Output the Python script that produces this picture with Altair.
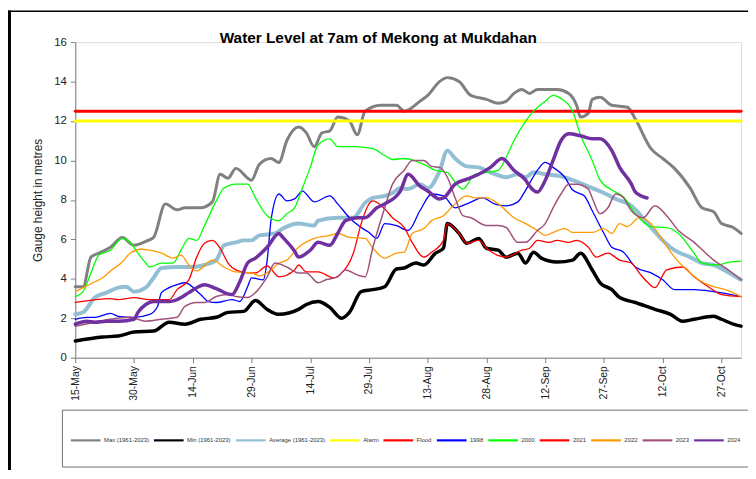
import altair as alt
import pandas as pd

title_text = "Water Level at 7am of Mekong at Mukdahan"
y_title = "Gauge height in metres"
tick_days = [0, 15, 30, 45, 60, 75, 90, 105, 120, 135, 150, 165]
tick_labels = ["15-May", "30-May", "14-Jun", "29-Jun", "14-Jul", "29-Jul",
               "13-Aug", "28-Aug", "12-Sep", "27-Sep", "12-Oct", "27-Oct"]
y_ticks = [0, 2, 4, 6, 8, 10, 12, 14, 16]

series_names = ["Max (1961-2023)", "Min (1961-2023)", "Average (1961-2023)", "Alarm", "Flood",
                "1998", "2000", "2021", "2022", "2023", "2024"]
series_colors = ["#808080", "#000000", "#92BFD4", "#FFFF00", "#FF0000",
                 "#0000FF", "#00FF00", "#FF0000", "#FF9900", "#A0527A", "#7030A0"]
series_widths = [3, 3.5, 4, 3, 3, 1.3, 1.3, 1.3, 1.3, 1.5, 3.5]

max_days = [0, 2, 4, 6, 9, 12, 15, 18, 20, 23, 26, 28, 32, 35, 37, 39, 41, 45, 47, 50, 52, 54, 57, 59, 61, 63, 65, 67, 70, 72, 74, 78, 82, 84, 88, 90, 93, 95, 98, 101, 105, 108, 110, 112, 114, 116, 118, 123, 126, 128, 129, 131, 132, 134, 137, 141, 143, 147, 150, 153, 157, 160, 163, 165, 168, 170]
max_vals = [3.6, 3.6, 5.1, 5.3, 5.6, 6.1, 5.7, 5.9, 6.1, 7.8, 7.5, 7.6, 7.6, 7.9, 9.3, 9.1, 9.6, 9.0, 9.8, 10.1, 9.9, 11.0, 11.7, 11.4, 10.7, 11.4, 11.5, 12.2, 12.0, 11.3, 12.5, 12.8, 12.8, 12.5, 13.0, 13.3, 14.0, 14.2, 14.0, 13.3, 13.1, 12.9, 13.0, 13.4, 13.6, 13.4, 13.6, 13.6, 13.4, 12.8, 12.2, 12.4, 13.1, 13.2, 12.8, 12.7, 12.1, 10.6, 10.1, 9.6, 8.6, 7.6, 7.4, 6.8, 6.6, 6.3]

min_days = [0, 7, 11, 15, 20, 24, 28, 32, 36, 39, 43, 46, 49, 52, 57, 59, 62, 65, 68, 70, 73, 76, 79, 82, 84, 87, 89, 92, 94, 95, 98, 100, 103, 105, 108, 110, 113, 115, 117, 119, 123, 127, 129, 132, 134, 137, 139, 143, 148, 152, 155, 158, 163, 165, 168, 170]
min_vals = [0.85, 1.05, 1.1, 1.3, 1.35, 1.8, 1.7, 1.95, 2.05, 2.3, 2.35, 2.9, 2.45, 2.2, 2.45, 2.7, 2.85, 2.55, 2.0, 2.3, 3.35, 3.45, 3.6, 4.5, 4.55, 4.8, 4.7, 5.3, 5.55, 6.8, 6.3, 5.8, 6.05, 5.55, 5.45, 5.1, 5.3, 4.8, 5.35, 5.05, 4.85, 4.95, 5.3, 4.45, 3.8, 3.45, 3.05, 2.8, 2.45, 2.2, 1.85, 1.95, 2.1, 1.95, 1.7, 1.6]

avg_days = [0, 2, 5, 8, 11, 13, 15, 18, 20, 22, 26, 30, 33, 36, 38, 41, 43, 45, 47, 51, 53, 57, 61, 62, 67, 71, 74, 76, 79, 81, 83, 85, 88, 90, 93, 95, 97, 100, 103, 106, 110, 113, 115, 117, 120, 124, 127, 132, 135, 138, 142, 144, 147, 150, 153, 157, 160, 163, 167, 170]
avg_vals = [2.2, 2.3, 3.05, 3.3, 3.55, 3.6, 3.35, 3.55, 4.05, 4.55, 4.6, 4.6, 4.7, 4.95, 5.7, 5.85, 5.95, 5.95, 6.2, 6.3, 6.55, 6.8, 6.7, 6.95, 7.1, 7.1, 7.85, 8.1, 8.2, 8.35, 8.6, 8.55, 8.8, 8.6, 9.45, 10.5, 10.1, 9.7, 9.65, 9.4, 9.15, 9.3, 9.15, 9.4, 9.3, 9.2, 9.0, 8.6, 8.35, 8.05, 7.7, 7.3, 6.6, 5.95, 5.45, 5.1, 4.8, 4.7, 4.3, 3.95]

alarm_days = [0, 170]
alarm_vals = [12.0, 12.0]
flood_days = [0, 170]
flood_vals = [12.5, 12.5]

y1998_days = [0, 3, 5, 9, 11, 15, 19, 21, 22, 24, 26, 28, 32, 34, 36, 40, 42, 44, 45, 48, 49, 50, 52, 54, 56, 58, 61, 65, 67, 70, 73, 75, 77, 79, 82, 85, 88, 91, 94, 97, 100, 104, 107, 110, 113, 115, 118, 120, 122, 125, 127, 130, 132, 135, 137, 140, 143, 147, 150, 153, 158, 163, 170]
y1998_vals = [1.95, 2.05, 2.05, 2.25, 2.1, 2.05, 2.2, 2.6, 3.3, 3.55, 3.7, 3.8, 3.2, 2.85, 2.8, 2.95, 2.85, 3.6, 4.05, 3.95, 4.95, 7.0, 8.3, 7.95, 8.05, 8.45, 7.9, 8.2, 7.8, 7.1, 6.6, 6.35, 6.05, 6.8, 6.7, 6.45, 7.45, 8.3, 8.2, 7.6, 7.8, 8.1, 7.8, 7.7, 7.9, 8.5, 9.5, 9.9, 9.65, 9.15, 8.5, 8.2, 7.45, 6.3, 5.6, 5.35, 4.6, 4.3, 3.95, 3.45, 3.45, 3.35, 3.1]

y2000_days = [0, 2, 4, 6, 9, 12, 14, 16, 18, 19, 22, 25, 27, 29, 31, 33, 36, 38, 41, 44, 46, 49, 52, 54, 56, 58, 60, 62, 65, 67, 71, 76, 79, 81, 84, 89, 92, 95, 97, 99, 102, 105, 108, 110, 112, 115, 117, 120, 122, 124, 127, 129, 132, 134, 137, 140, 143, 147, 151, 154, 158, 160, 164, 167, 170]
y2000_vals = [3.1, 3.35, 4.3, 5.2, 5.45, 6.05, 5.85, 5.3, 4.8, 4.6, 4.8, 4.8, 5.45, 6.05, 5.95, 6.7, 7.95, 8.6, 8.8, 8.8, 8.1, 7.2, 6.95, 7.3, 7.6, 8.6, 9.65, 10.8, 11.1, 10.7, 10.7, 10.6, 10.25, 10.05, 10.1, 9.8, 9.5, 9.4, 8.9, 8.55, 9.3, 9.4, 9.5, 10.15, 11.0, 12.0, 12.5, 13.0, 13.3, 13.15, 12.5, 11.3, 10.0, 9.0, 8.5, 8.15, 7.3, 6.65, 6.6, 6.3, 5.3, 4.8, 4.7, 4.85, 4.9]

y2021_days = [0, 9, 11, 15, 19, 24, 26, 29, 31, 33, 35, 37, 39, 41, 44, 46, 49, 52, 56, 57, 59, 62, 66, 68, 71, 73, 75, 76, 79, 81, 84, 86, 89, 91, 94, 95, 98, 100, 103, 105, 110, 114, 116, 118, 121, 123, 126, 128, 131, 133, 136, 139, 142, 144, 146, 148, 151, 155, 158, 162, 165, 170]
y2021_vals = [2.8, 3.0, 2.95, 3.05, 2.95, 2.95, 3.45, 3.95, 5.1, 5.8, 5.95, 5.55, 4.8, 4.45, 4.3, 4.3, 4.65, 4.1, 4.45, 4.7, 4.35, 4.35, 4.05, 4.3, 5.3, 6.8, 7.8, 7.95, 7.55, 7.1, 6.6, 5.85, 5.1, 5.35, 5.95, 6.8, 6.3, 5.8, 5.95, 5.55, 5.1, 5.45, 5.55, 5.95, 5.85, 5.95, 5.85, 5.95, 5.6, 5.1, 5.3, 4.95, 4.8, 4.3, 3.85, 3.55, 4.45, 4.6, 4.1, 3.55, 3.2, 3.1]

y2022_days = [0, 5, 7, 9, 12, 14, 17, 19, 22, 25, 27, 29, 31, 35, 38, 41, 45, 47, 50, 52, 54, 57, 61, 65, 67, 70, 74, 76, 79, 82, 84, 86, 89, 91, 94, 96, 100, 102, 105, 108, 112, 115, 118, 120, 122, 125, 127, 132, 135, 137, 139, 141, 144, 147, 150, 153, 157, 160, 163, 166, 170]
y2022_vals = [3.35, 3.85, 4.05, 4.4, 4.85, 5.3, 5.5, 5.45, 5.3, 5.05, 5.2, 4.7, 4.4, 4.95, 4.6, 4.35, 4.3, 4.15, 4.45, 4.8, 4.95, 5.6, 6.05, 6.2, 6.3, 6.1, 6.05, 5.55, 5.05, 5.3, 5.35, 6.3, 6.55, 6.95, 7.2, 7.6, 8.2, 8.1, 8.1, 7.8, 7.1, 6.8, 6.45, 6.2, 6.35, 6.55, 6.35, 6.35, 6.55, 6.3, 6.8, 6.65, 7.1, 6.8, 5.95, 5.1, 4.3, 3.85, 3.6, 3.45, 3.1]

y2023_days = [0, 5, 9, 14, 18, 22, 26, 28, 31, 33, 36, 39, 41, 44, 46, 49, 51, 54, 57, 59, 62, 64, 67, 69, 72, 74, 76, 79, 81, 84, 86, 89, 91, 93, 95, 97, 99, 101, 105, 108, 110, 113, 115, 118, 120, 122, 124, 126, 128, 131, 132, 134, 136, 138, 140, 142, 145, 148, 151, 154, 158, 161, 163, 166, 170]
y2023_vals = [1.6, 1.8, 1.95, 2.05, 1.85, 1.95, 2.05, 2.6, 2.8, 2.8, 3.1, 3.2, 3.1, 3.05, 3.3, 4.1, 4.8, 4.6, 4.3, 4.3, 3.8, 3.95, 4.1, 4.45, 4.2, 4.1, 5.6, 7.6, 8.8, 9.5, 10.0, 10.0, 9.7, 9.65, 9.15, 8.1, 7.2, 7.1, 6.7, 6.7, 6.6, 5.85, 5.85, 6.45, 6.8, 7.6, 8.3, 8.8, 8.8, 8.55, 8.1, 7.3, 7.6, 8.3, 8.1, 7.45, 7.1, 7.7, 7.2, 6.45, 5.85, 5.3, 4.95, 4.55, 3.95]

y2024_days = [0, 3, 5, 8, 11, 15, 16, 18, 20, 24, 26, 29, 31, 33, 36, 40, 42, 44, 46, 49, 52, 53, 56, 57, 60, 62, 65, 67, 69, 72, 74, 77, 79, 83, 85, 88, 90, 93, 94, 97, 100, 103, 106, 109, 112, 115, 116, 118, 120, 122, 124, 126, 129, 132, 134, 137, 139, 142, 143, 146]
y2024_vals = [1.7, 1.85, 1.8, 1.85, 1.85, 1.95, 2.3, 2.7, 2.85, 2.85, 2.95, 3.3, 3.55, 3.7, 3.5, 3.2, 3.85, 4.8, 5.05, 5.6, 6.3, 6.1, 5.4, 5.1, 5.45, 5.85, 5.7, 6.3, 6.95, 7.1, 7.1, 7.6, 7.8, 8.45, 9.3, 8.7, 8.45, 8.05, 8.1, 8.8, 9.05, 9.3, 9.65, 10.1, 9.5, 9.0, 8.7, 8.4, 9.0, 10.0, 11.0, 11.35, 11.25, 11.1, 11.1, 10.5, 9.65, 8.8, 8.4, 8.1]

series_data = [
    (max_days, max_vals), (min_days, min_vals), (avg_days, avg_vals),
    (alarm_days, alarm_vals), (flood_days, flood_vals),
    (y1998_days, y1998_vals), (y2000_days, y2000_vals), (y2021_days, y2021_vals),
    (y2022_days, y2022_vals), (y2023_days, y2023_vals), (y2024_days, y2024_vals),
]

rows = []
for name, width, (days, vals) in zip(series_names, series_widths, series_data):
    for d, v in zip(days, vals):
        rows.append({"series": name, "day": d, "level": v, "sw": width})
df = pd.DataFrame(rows)

FONT = "Liberation Sans"
label_expr = "[" + ",".join("'%s'" % t for t in tick_labels) + "][round(datum.value/15)]"

one = pd.DataFrame({"k": [0]})

lines = alt.Chart(df).mark_line(interpolate="monotone", strokeJoin="round", strokeCap="round").encode(
    x=alt.X("day:Q", scale=alt.Scale(domain=[0, 170], nice=False, zero=False),
            axis=alt.Axis(values=tick_days, labelExpr=label_expr, labelAngle=-90, title=None,
                          grid=False, domainColor="#808080", tickColor="#808080", tickSize=5,
                          labelFontSize=10.5, labelColor="#222222", labelFont=FONT, labelPadding=3)),
    y=alt.Y("level:Q", scale=alt.Scale(domain=[0, 16], nice=False),
            axis=alt.Axis(values=y_ticks, title=y_title, grid=False, domainColor="#808080",
                          tickColor="#808080", tickSize=5, labelFontSize=11.5, labelColor="#222222",
                          labelFont=FONT, labelPadding=4, titleFont=FONT, titleFontSize=12,
                          titleFontWeight="normal", titleColor="#222222", titlePadding=9)),
    color=alt.Color("series:N", scale=alt.Scale(domain=series_names, range=series_colors),
                    legend=alt.Legend(title=None, orient="none", legendX=-6, legendY=386,
                                      direction="horizontal", columns=11, symbolType="stroke",
                                      symbolSize=900, symbolStrokeWidth=2.2, labelFontSize=6,
                                      labelFont=FONT, labelColor="#333333", columnPadding=0,
                                      labelOffset=2)),
    strokeWidth=alt.StrokeWidth("sw:Q", scale=None),
    order=alt.Order("day:Q"),
)

legend_box = alt.Chart(one).mark_rect(fill="transparent", stroke="#707070", strokeWidth=1).encode(
    x=alt.value(-13), x2=alt.value(720), y=alt.value(372), y2=alt.value(429.5))

left_border = alt.Chart(one).mark_rule(color="black", strokeWidth=3).encode(
    x=alt.value(-66.5), y=alt.value(-32), y2=alt.value(440))
top_border = alt.Chart(one).mark_rule(color="black", strokeWidth=1.5).encode(
    x=alt.value(-68), x2=alt.value(690), y=alt.value(-31.2))

title = alt.Chart(pd.DataFrame({"t": [title_text]})).mark_text(
    align="left", baseline="alphabetic", font=FONT, fontSize=15.5, fontWeight="bold", color="black"
).encode(x=alt.value(146), y=alt.value(0.5), text="t:N")

chart = alt.layer(legend_box, left_border, top_border, lines, title).properties(
    width=673, height=319,
    padding={"left": 68, "top": 32, "right": 7, "bottom": 111},
    autosize=alt.AutoSizeParams(type="none"),
).configure_view(strokeWidth=0).configure(font=FONT)

chart.save("out.html", embed_options={"renderer": "svg", "actions": False})
